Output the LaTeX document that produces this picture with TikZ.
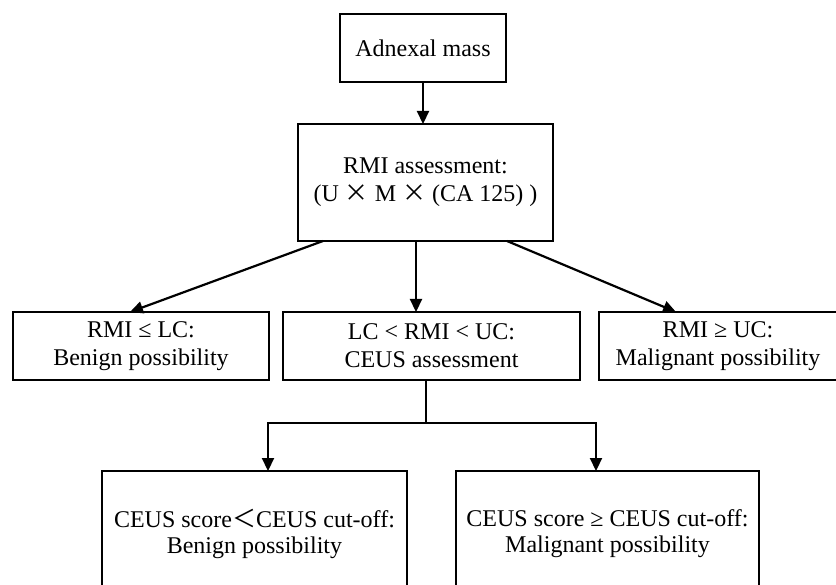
\documentclass[tikz,border=0pt]{standalone}
\usepackage{fontspec}
\setmainfont{Liberation Serif}
\newfontfamily\cjk{Noto Sans CJK SC}
\usetikzlibrary{arrows.meta,positioning}

\begin{document}
\begin{tikzpicture}[x=1pt,y=-1pt,->,>={Triangle[length=13pt,width=12pt]},
    line width=2.2pt,
    box/.style={draw,rectangle,outer sep=0pt,inner sep=2pt,align=center,
      font=\fontsize{24}{28}\selectfont},
    line/.style={-}]
  \useasboundingbox (0,0) rectangle (836,585);
  \clip (0,0) rectangle (836,585);
  \node[box, minimum width=166pt, minimum height=68pt] (mass) at (423,48) {Adnexal mass};
  \node[box, minimum width=255pt, minimum height=117pt] (rmi) [below=42pt of mass, xshift=2.5pt]
    {RMI assessment:\\(U {\cjk ×} M {\cjk ×} (CA 125) )};
  \node[box, minimum width=297pt, minimum height=68pt] (mid) [below=71pt of rmi, xshift=6pt]
    {LC < RMI < UC:\\CEUS assessment};
  \node[box, minimum width=256pt, minimum height=68pt] (low) [left=14pt of mid]
    {RMI ≤ LC:\\Benign possibility};
  \node[box, minimum width=238pt, minimum height=68pt] (high) [right=19pt of mid]
    {RMI ≥ UC:\\Malignant possibility};
  \node[box, minimum width=305pt, minimum height=126pt, font=\fontsize{24}{26}\selectfont]
    (cbenign) [below=91pt of mid, xshift=-177pt]
    {CEUS score{\cjk ＜}CEUS cut-off:\\Benign possibility};
  \node[box, minimum width=303pt, minimum height=126pt, font=\fontsize{24}{26}\selectfont]
    (cmalig) [right=49pt of cbenign]
    {CEUS score ≥ CEUS cut-off:\\Malignant possibility};
  \coordinate[below=43pt of mid.south, xshift=-5.5pt] (split);
  \draw (mass.south) -- (mass.south |- rmi.north);
  \draw ([xshift=25pt]rmi.south west) -- ([xshift=-11pt]low.north);
  \draw ([xshift=-9.5pt]rmi.south) -- ([xshift=-9.5pt]rmi.south |- mid.north);
  \draw ([xshift=-46pt]rmi.south east) -- ([xshift=-42pt]high.north);
  \draw[line] ([xshift=-5.5pt]mid.south) -- (split);
  \draw (split) -| ([xshift=13.5pt]cbenign.north);
  \draw (split) -| ([xshift=-11.5pt]cmalig.north);
\end{tikzpicture}
\end{document}
